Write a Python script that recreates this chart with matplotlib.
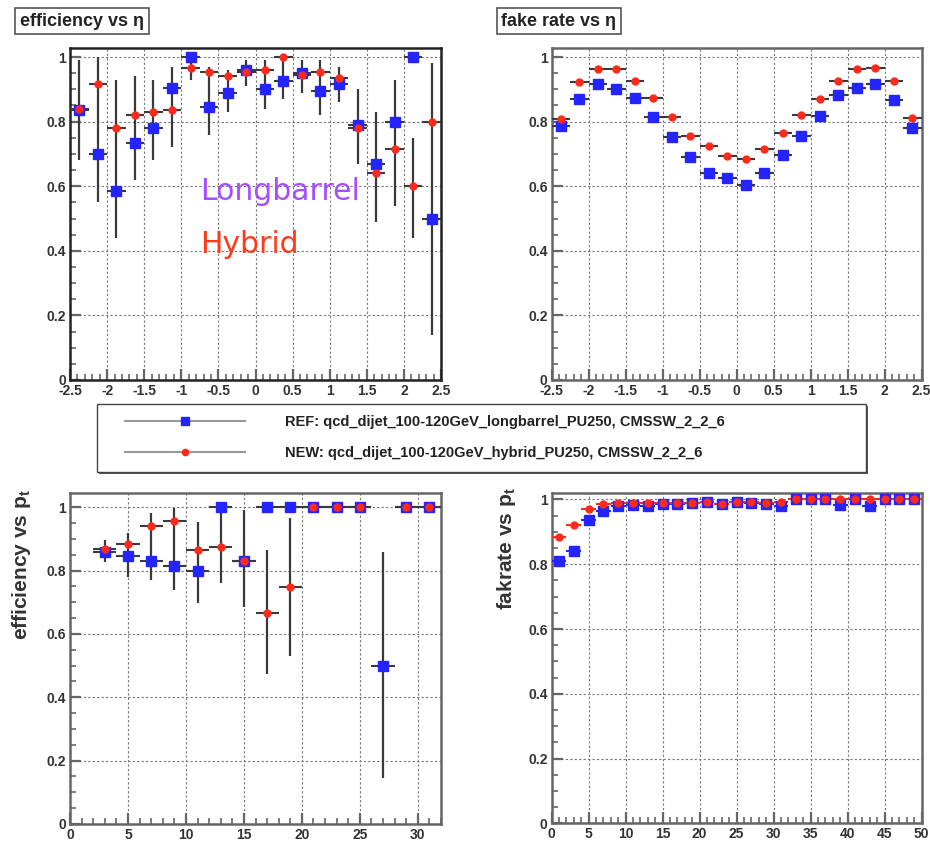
import matplotlib
matplotlib.use('Agg')
import matplotlib.pyplot as plt
import numpy as np
from matplotlib.lines import Line2D
from matplotlib.patches import Rectangle
from matplotlib.ticker import MultipleLocator, FuncFormatter

plt.rcParams['font.family'] = ['Liberation Sans', 'DejaVu Sans']
plt.rcParams['font.weight'] = 'bold'
plt.rcParams['axes.unicode_minus'] = False
plt.rcParams['mathtext.fontset'] = 'custom'
plt.rcParams['mathtext.rm'] = 'Liberation Sans:bold'

# ---- data ----
eta_centers = [-2.375, -2.125, -1.875, -1.625, -1.375, -1.125, -0.875, -0.625, -0.375, -0.125,
               0.125, 0.375, 0.625, 0.875, 1.125, 1.375, 1.625, 1.875, 2.125, 2.375]
eff_eta_ref = [0.835, 0.70, 0.585, 0.735, 0.78, 0.905, 1.0, 0.845, 0.89, 0.96,
               0.90, 0.925, 0.95, 0.895, 0.915, 0.79, 0.67, 0.80, 1.0, 0.50]
eff_eta_new = [0.84, 0.915, 0.78, 0.82, 0.83, 0.835, 0.965, 0.955, 0.94, 0.955,
               0.96, 1.0, 0.945, 0.955, 0.935, 0.78, 0.64, 0.715, 0.60, 0.80]
eff_eta_lo = [0.68, 0.55, 0.44, 0.62, 0.68, 0.72, 0.93, 0.76, 0.83, 0.91,
              0.84, 0.87, 0.89, 0.82, 0.86, 0.67, 0.49, 0.54, 0.44, 0.14]
eff_eta_hi = [0.99, 1.0, 0.93, 0.94, 0.93, 0.97, 1.0, 0.97, 0.96, 0.99,
              0.99, 0.99, 0.99, 0.99, 0.97, 0.90, 0.83, 0.93, 0.75, 0.98]

fake_eta_ref = [0.786, 0.869, 0.915, 0.90, 0.872, 0.815, 0.753, 0.689, 0.64, 0.626,
                0.604, 0.64, 0.697, 0.755, 0.817, 0.882, 0.905, 0.918, 0.867, 0.781]
fake_eta_new = [0.808, 0.924, 0.963, 0.963, 0.925, 0.874, 0.815, 0.755, 0.725, 0.693,
                0.684, 0.715, 0.766, 0.82, 0.869, 0.925, 0.963, 0.965, 0.925, 0.81]

eff_pt_centers = [3, 5, 7, 9, 11, 13, 15, 17, 19, 21, 23, 25, 27, 29, 31]
eff_pt_ref = [0.86, 0.846, 0.831, 0.815, 0.799, 1.0, 0.831, 1.0, 1.0, 1.0, 1.0, 1.0, 0.50, 1.0, 1.0]
eff_pt_new = [0.867, 0.883, 0.941, 0.957, 0.865, 0.876, 0.831, 0.667, 0.749, 1.0, 1.0, 1.0, np.nan, 1.0, 1.0]
eff_pt_lo = [0.828, 0.781, 0.77, 0.739, 0.697, 0.76, 0.685, 0.474, 0.53, 1.0, 1.0, 1.0, 0.144, 1.0, 1.0]
eff_pt_hi = [0.897, 0.918, 0.981, 0.997, 0.955, 1.0, 0.99, 0.865, 0.965, 1.0, 1.0, 1.0, 0.86, 1.0, 1.0]

fake_pt_centers = [1, 3, 5, 7, 9, 11, 13, 15, 17, 19, 21, 23, 25,
                   27, 29, 31, 33, 35, 37, 39, 41, 43, 45, 47, 49]
fake_pt_ref = [0.81, 0.842, 0.938, 0.965, 0.979, 0.982, 0.979, 0.985, 0.987, 0.99, 0.993, 0.987, 0.993,
               0.99, 0.987, 0.98, 1.0, 1.0, 1.0, 0.982, 1.0, 0.98, 1.0, 1.0, 1.0]
fake_pt_new = [0.883, 0.921, 0.970, 0.985, 0.988, 0.988, 0.988, 0.99, 0.988, 0.99, 0.993, 0.987, 0.993,
               0.993, 0.99, 0.993, 1.0, 1.0, 1.0, 1.0, 1.0, 1.0, 1.0, 1.0, 1.0]

ref_label = 'REF: qcd_dijet_100-120GeV_longbarrel_PU250, CMSSW_2_2_6'
new_label = 'NEW: qcd_dijet_100-120GeV_hybrid_PU250, CMSSW_2_2_6'

BLUE = '#2424ff'
RED = '#ff2a1a'
BAR = '#3a3a3a'
W, H = 930.0, 842.0


def style_axes(ax, xlim, ylim, xmajor, xminor, frame='#666'):
    ax.set_xlim(*xlim)
    ax.set_ylim(*ylim)
    ax.xaxis.set_major_locator(MultipleLocator(xmajor))
    ax.xaxis.set_minor_locator(MultipleLocator(xminor))
    ax.yaxis.set_major_locator(MultipleLocator(0.2))
    ax.yaxis.set_minor_locator(MultipleLocator(0.05))
    fmt = FuncFormatter(lambda v, p: '%g' % round(v, 3))
    ax.xaxis.set_major_formatter(fmt)
    ax.yaxis.set_major_formatter(fmt)
    ax.tick_params(which='both', direction='in', top=False, right=False,
                   color='#666', labelcolor='#333', labelsize=10, pad=3)
    ax.tick_params(which='major', length=8, width=1.6)
    ax.tick_params(which='minor', length=4, width=1.2)
    ax.grid(True, which='major', linestyle=(0, (2, 2)), color='#777', lw=0.8)
    ax.set_axisbelow(True)
    for s in ax.spines.values():
        s.set_color(frame)
        s.set_linewidth(1.8)


def draw_points(ax, x, y, half, color, marker, ms, barcolor=BAR):
    ax.errorbar(x, y, xerr=half, fmt=marker, color=color, ms=ms, mec=color,
                ecolor=barcolor, elinewidth=1.5, capsize=0, zorder=3)


fig = plt.figure(figsize=(9.3, 8.42), dpi=100)

# top left: efficiency vs eta
ax1 = fig.add_axes([0.0753, 0.5487, 0.3989, 0.3943])
style_axes(ax1, (-2.5, 2.5), (0, 1.028), 0.5, 0.1, frame='#222')
ax1.vlines(eta_centers, eff_eta_lo, eff_eta_hi, color=BAR, lw=1.6, zorder=2)
draw_points(ax1, eta_centers, eff_eta_ref, 0.125, BLUE, 's', 6.5)
draw_points(ax1, eta_centers, eff_eta_new, 0.125, RED, 'o', 5)
ax1.text(-0.75, 0.557, 'Longbarrel', color='#a64dff', fontsize=21.5,
         fontweight='normal', family='DejaVu Sans', zorder=5)
ax1.text(-0.75, 0.393, 'Hybrid', color='#ff3a1a', fontsize=21.5,
         fontweight='normal', family='DejaVu Sans', zorder=5)

# top right: fake rate vs eta
ax2 = fig.add_axes([0.5932, 0.5487, 0.3978, 0.3943])
style_axes(ax2, (-2.5, 2.5), (0, 1.028), 0.5, 0.1)
draw_points(ax2, eta_centers, fake_eta_ref, 0.125, BLUE, 's', 6.5)
draw_points(ax2, eta_centers, fake_eta_new, 0.125, RED, 'o', 5)

# bottom left: efficiency vs pt
ax3 = fig.add_axes([0.0753, 0.0214, 0.3989, 0.3934])
style_axes(ax3, (0, 32), (0, 1.046), 5, 1)
ax3.vlines(eff_pt_centers, eff_pt_lo, eff_pt_hi, color=BAR, lw=1.6, zorder=2)
draw_points(ax3, eff_pt_centers, eff_pt_ref, 1, BLUE, 's', 6.5)
draw_points(ax3, eff_pt_centers, eff_pt_new, 1, RED, 'o', 5)
ax3.set_ylabel(r'efficiency vs p$_\mathregular{t}$', fontsize=15, color='#333',
               fontweight='bold', ha='right')
ax3.yaxis.set_label_coords(-0.10, 1.01)

# bottom right: fake rate vs pt
ax4 = fig.add_axes([0.5932, 0.0222, 0.3978, 0.3919])
style_axes(ax4, (0, 50), (0, 1.019), 5, 1)
draw_points(ax4, fake_pt_centers, fake_pt_ref, 1, BLUE, 's', 6.5, barcolor=BLUE)
draw_points(ax4, fake_pt_centers, fake_pt_new, 1, RED, 'o', 5, barcolor=RED)
ax4.set_ylabel(r'fakrate vs p$_\mathregular{t}$', fontsize=15, color='#333',
               fontweight='bold', ha='right')
ax4.yaxis.set_label_coords(-0.091, 1.02)

# title boxes
box = dict(boxstyle='square,pad=0.25', fc='white', ec='#555', lw=1.2)
fig.text(0.0215, 0.975, 'efficiency vs η', fontsize=13, color='#222', va='center', bbox=box)
fig.text(0.539, 0.975, 'fake rate vs η', fontsize=13, color='#222', va='center', bbox=box)

# legend frame with shadow, then frameless legend inside
fig.patches.append(Rectangle((99 / W, 1 - 474 / H), 769 / W, 68 / H, transform=fig.transFigure,
                             fc='#555', ec='none', zorder=0))
fig.patches.append(Rectangle((97 / W, 1 - 472 / H), 769 / W, 68 / H, transform=fig.transFigure,
                             fc='white', ec='#444', lw=1.0, zorder=1))
h_ref = Line2D([], [], color='#999', lw=1.5, marker='s', ms=6, mfc=BLUE, mec=BLUE)
h_new = Line2D([], [], color='#999', lw=1.5, marker='o', ms=4.5, mfc=RED, mec=RED)
leg = fig.legend([h_ref, h_new], [ref_label, new_label], loc='upper left',
                 bbox_to_anchor=(125 / W, 1 - 415 / H), borderaxespad=0, borderpad=0,
                 frameon=False, fontsize=10.5, handlelength=8.2, handletextpad=2.8,
                 labelspacing=1.2, numpoints=1)
for t in leg.get_texts():
    t.set_color('#222')

fig.savefig('out.png', dpi=100)
